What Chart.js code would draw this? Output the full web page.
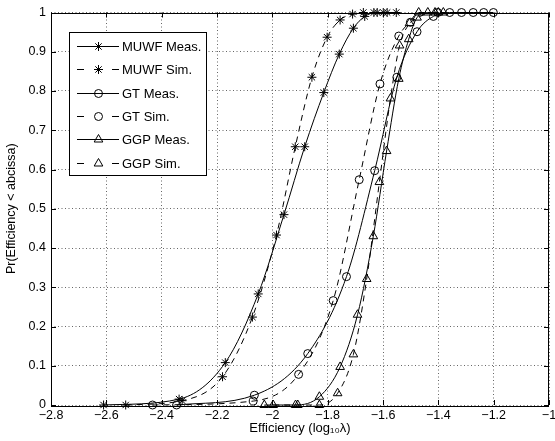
<!DOCTYPE html>
<html>
<head>
<meta charset="utf-8">
<script src="https://cdn.jsdelivr.net/npm/chart.js@4.4.1/dist/chart.umd.min.js"></script>
<style>
    html, body { margin: 0; padding: 0; background: #fff; }
    #wrap { width: 555px; height: 441px; }
</style>
</head>
<body>
<div id="wrap"><canvas id="cdf" width="555" height="441"></canvas></div>
<script>
// значения (x = log10 λ, y = Pr)
const muwfMeasX = [-2.61, -2.337, -2.170, -2.051, -1.958, -1.883, -1.814, -1.758, -1.707, -1.666, -1.621, -1.585, -1.552]
const muwfMeasY = [0, 0.015, 0.108, 0.283, 0.485, 0.658, 0.796, 0.894, 0.960, 0.990, 1, 1, 1]
const muwfSimX = [-2.53, -2.326, -2.180, -2.072, -1.985, -1.917, -1.857, -1.802, -1.755, -1.710, -1.671, -1.633, -1.599]
const muwfSimY = [0, 0.011, 0.072, 0.224, 0.433, 0.658, 0.835, 0.937, 0.981, 0.996, 1, 1, 1]

const gtMeasX = [-2.346, -2.065, -1.872, -1.732, -1.630, -1.550, -1.477, -1.418, -1.359, -1.274, -1.201]
const gtMeasY = [0, 0.025, 0.131, 0.327, 0.597, 0.835, 0.951, 0.990, 1, 1, 1]
const gtSimX = [-2.433, -2.069, -1.905, -1.780, -1.686, -1.611, -1.543, -1.501, -1.402, -1.316, -1.236]
const gtSimY = [0, 0.010, 0.078, 0.266, 0.574, 0.818, 0.940, 0.975, 1, 1, 1]

const ggpMeasX = [-2.029, -1.916, -1.830, -1.755, -1.692, -1.635, -1.587, -1.543, -1.507, -1.477, -1.438, -1.400]
const ggpMeasY = [0, 0, 0.021, 0.097, 0.230, 0.430, 0.647, 0.831, 0.932, 0.987, 1, 1]
const ggpSimX = [-1.997, -1.908, -1.830, -1.764, -1.707, -1.659, -1.613, -1.573, -1.540, -1.504, -1.471, -1.412, -1.382]
const ggpSimY = [0, 0, 0, 0.030, 0.129, 0.321, 0.568, 0.781, 0.916, 0.973, 1, 1, 1]

const seriesNames = ["MUWF Meas.", "MUWF Sim.", "GT Meas.", "GT Sim.", "GGP Meas.", "GGP Sim."]

const FONT = "'Liberation Sans', Arial, sans-serif"
const DASH = [6, 5]

const toPoints = (xs, ys) => xs.map((x, i) => ({ x: x, y: ys[i] }))

const markerOf = (name) => {
    if (name.startsWith("MUWF")) return { pointStyle: "star", radius: 4.5 }
    if (name.startsWith("GT")) return { pointStyle: "circle", radius: 4 }
    return { pointStyle: "triangle", radius: 5 }
}

const makeDataset = (name, xs, ys) => {
    const m = markerOf(name)
    const dashed = name.endsWith("Sim.")
    return {
        label: name,
        data: toPoints(xs, ys),
        borderColor: "#000",
        borderWidth: 1,
        borderDash: dashed ? DASH : [],
        cubicInterpolationMode: "monotone",
        pointStyle: m.pointStyle,
        pointRadius: m.radius,
        pointBorderColor: "#000",
        pointBackgroundColor: "rgba(0,0,0,0)",
        pointBorderWidth: 1,
        clip: false,
        fill: false
    }
}

const fmtTick = (v, digits) => {
    const s = String(Math.round(v * Math.pow(10, digits)) / Math.pow(10, digits))
    return s.replace("-", "\u2212")
}

// рамка, внутренние засечки и легенда в стиле matlab
const matlabBox = {
    id: "matlabBox",
    beforeDatasetsDraw(chart) {
        const { ctx, chartArea: a, scales: { x, y } } = chart
        ctx.save()
        ctx.strokeStyle = "#000"
        ctx.lineWidth = 1
        ctx.setLineDash([])
        ctx.strokeRect(Math.round(a.left) + 0.5, Math.round(a.top) + 0.5,
            Math.round(a.right - a.left) - 1, Math.round(a.bottom - a.top))
        const tl = 5
        ctx.beginPath()
        x.ticks.forEach(t => {
            const px = Math.round(x.getPixelForValue(t.value)) + 0.5
            ctx.moveTo(px, a.bottom); ctx.lineTo(px, a.bottom - tl)
            ctx.moveTo(px, a.top); ctx.lineTo(px, a.top + tl)
        })
        y.ticks.forEach(t => {
            const py = Math.round(y.getPixelForValue(t.value)) + 0.5
            ctx.moveTo(a.left, py); ctx.lineTo(a.left + tl, py)
            ctx.moveTo(a.right, py); ctx.lineTo(a.right - tl, py)
        })
        ctx.stroke()
        ctx.restore()
    },
    afterDraw(chart) {
        const { ctx } = chart
        const bx = 69.5, by = 32.5, bw = 137, bh = 143
        ctx.save()
        ctx.fillStyle = "#fff"
        ctx.fillRect(bx, by, bw, bh)
        ctx.strokeStyle = "#000"
        ctx.lineWidth = 1
        ctx.strokeRect(bx, by, bw, bh)
        ctx.font = "13px " + FONT
        ctx.textBaseline = "middle"
        chart.data.datasets.forEach((ds, i) => {
            const yy = Math.round(45.7 + i * 23.4) + 0.5
            ctx.strokeStyle = "#000"
            ctx.beginPath()
            if (ds.borderDash.length) {
                ctx.moveTo(77, yy); ctx.lineTo(84, yy)
                ctx.moveTo(112, yy); ctx.lineTo(119, yy)
            } else {
                ctx.moveTo(77, yy); ctx.lineTo(119, yy)
            }
            ctx.stroke()
            ctx.fillStyle = "rgba(0,0,0,0)"
            Chart.helpers.drawPoint(ctx, {
                pointStyle: ds.pointStyle, radius: ds.pointRadius,
                borderWidth: 1, rotation: 0
            }, 98.5, yy)
            ctx.fillStyle = "#000"
            ctx.fillText(ds.label, 122, yy + 0.5)
        })
        ctx.restore()
    }
}

const datasets = [
    makeDataset(seriesNames[0], muwfMeasX, muwfMeasY),
    makeDataset(seriesNames[1], muwfSimX, muwfSimY),
    makeDataset(seriesNames[2], gtMeasX, gtMeasY),
    makeDataset(seriesNames[3], gtSimX, gtSimY),
    makeDataset(seriesNames[4], ggpMeasX, ggpMeasY),
    makeDataset(seriesNames[5], ggpSimX, ggpSimY)
]

new Chart(document.getElementById("cdf"), {
    type: "line",
    data: { datasets: datasets },
    plugins: [matlabBox],
    options: {
        responsive: false,
        animation: false,
        layout: { padding: { top: 10, right: 2, left: 0, bottom: 0 } },
        plugins: { legend: { display: false }, tooltip: { enabled: false } },
        scales: {
            x: {
                type: "linear",
                min: -2.8,
                max: -1,
                ticks: {
                    stepSize: 0.2,
                    color: "#000",
                    font: { family: FONT, size: 12.5 },
                    padding: 3,
                    maxRotation: 0,
                    autoSkip: false,
                    callback: (v) => fmtTick(v, 1)
                },
                grid: { color: "rgba(0,0,0,0.6)", lineWidth: 1, drawTicks: false },
                border: { display: false, dash: [1, 2.5] },
                title: {
                    display: true,
                    text: "Efficiency (log\u2081\u2080\u03BB)",
                    color: "#000",
                    font: { family: FONT, size: 13 },
                    padding: { top: 0, bottom: 5 }
                },
                afterFit: (s) => { s.height = 36; s.paddingLeft = 0; s.paddingRight = 0 }
            },
            y: {
                type: "linear",
                min: 0,
                max: 1,
                ticks: {
                    stepSize: 0.1,
                    color: "#000",
                    font: { family: FONT, size: 12.5 },
                    padding: 5,
                    callback: (v) => fmtTick(v, 1)
                },
                grid: { color: "rgba(0,0,0,0.6)", lineWidth: 1, drawTicks: false },
                border: { display: false, dash: [1, 2.5] },
                title: {
                    display: true,
                    text: "Pr(Efficiency < abcissa)",
                    color: "#000",
                    font: { family: FONT, size: 12.5 },
                    padding: { top: 4, bottom: 0 }
                },
                afterFit: (s) => { s.width = 51 }
            }
        }
    }
})
</script>
</body>
</html>
